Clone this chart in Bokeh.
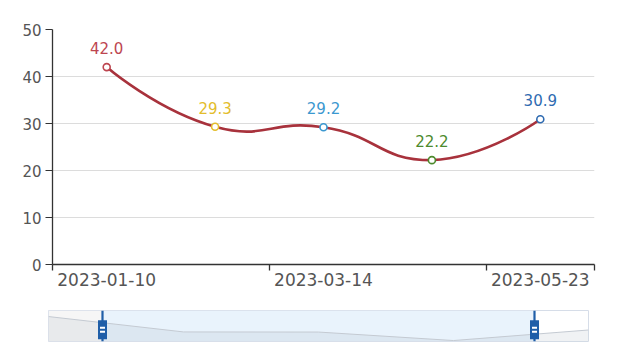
from bokeh.plotting import figure
from bokeh.models import Range1d, FixedTicker, ColumnDataSource
from bokeh.embed import file_html
from bokeh.resources import INLINE
from bokeh.core.properties import value
import numpy as np

# ---------------- data ----------------
dates = ["2023-01-10", "2023-02-11", "2023-03-14", "2023-04-18", "2023-05-23"]
values = [42.0, 29.3, 29.2, 22.2, 30.9]
point_colors = ["#bd4650", "#e3bd2c", "#3b98d0", "#4d8a2d", "#2f6bb1"]
y_ticks = [0, 10, 20, 30, 40, 50]
x_label_idx = [0, 2, 4]
zoom_start_pct, zoom_end_pct = 10, 90

FONT = "DejaVu Sans"
n = len(values)
idx = list(range(n))

# ---------------- main chart ----------------
FRAME_W, FRAME_H = 542, 235
p = figure(width=620, height=303,
           x_range=Range1d(-0.5, n - 0.5), y_range=Range1d(0, 50),
           output_backend="svg", toolbar_location=None,
           min_border_left=52, min_border_right=26,
           min_border_top=29, min_border_bottom=39)
p.outline_line_color = None
p.background_fill_color = "white"
p.border_fill_color = "white"
p.xgrid.visible = False
p.ygrid.grid_line_color = "#dcdcdc"
p.ygrid.grid_line_width = 1

p.yaxis.ticker = FixedTicker(ticks=y_ticks)
p.yaxis.axis_line_color = "#333333"
p.yaxis.axis_line_width = 1.3
p.yaxis.major_tick_line_color = "#333333"
p.yaxis.major_tick_in = 0
p.yaxis.major_tick_out = 7
p.yaxis.minor_tick_line_color = None
p.yaxis.major_label_text_font = FONT
p.yaxis.major_label_text_font_size = "15px"
p.yaxis.major_label_text_color = "#555555"
p.yaxis.major_label_standoff = 4

minor = [i - 0.5 for i in x_label_idx] + [n - 0.5]
p.xaxis.ticker = FixedTicker(ticks=x_label_idx, minor_ticks=minor)
p.xaxis.major_label_overrides = {i: dates[i] for i in x_label_idx}
p.xaxis.axis_line_color = "#333333"
p.xaxis.axis_line_width = 1.3
p.xaxis.major_tick_in = 0
p.xaxis.major_tick_out = 0
p.xaxis.minor_tick_in = 0
p.xaxis.minor_tick_out = 6
p.xaxis.minor_tick_line_color = "#333333"
p.xaxis.minor_tick_line_width = 1.3
p.xaxis.major_label_text_font = FONT
p.xaxis.major_label_text_font_size = "17px"
p.xaxis.major_label_text_color = "#555555"
p.xaxis.major_label_standoff = 2

# ECharts-style smooth bezier (computed in pixel space)
sx = FRAME_W / n
sy = FRAME_H / 50.0
pts = np.array([[i * sx, v * sy] for i, v in zip(idx, values)])
mn, mx = pts.min(axis=0), pts.max(axis=0)
smooth = 0.5
cps = []
for i in range(n):
    if i == 0 or i == n - 1:
        cps.append(pts[i].copy())
        continue
    prev, cur, nxt = pts[i - 1], pts[i], pts[i + 1]
    v = (nxt - prev) * smooth
    d0 = np.linalg.norm(cur - prev)
    d1 = np.linalg.norm(cur - nxt)
    s = d0 + d1
    d0, d1 = d0 / s, d1 / s
    c0 = np.clip(cur - v * d0, mn, mx)
    c1 = np.clip(cur + v * d1, mn, mx)
    cps += [c0, c1]
cps = np.array(cps) / np.array([sx, sy])

seg = ColumnDataSource(dict(
    x0=idx[:-1], y0=values[:-1], x1=idx[1:], y1=values[1:],
    cx0=cps[0:-1:2, 0], cy0=cps[0:-1:2, 1],
    cx1=cps[1::2, 0], cy1=cps[1::2, 1],
))
p.bezier(x0="x0", y0="y0", x1="x1", y1="y1", cx0="cx0", cy0="cy0",
         cx1="cx1", cy1="cy1", source=seg, line_color="#a8323c",
         line_width=2.6)

pt_src = ColumnDataSource(dict(x=idx, y=values, c=point_colors,
                               t=[f"{v:.1f}" for v in values]))
p.scatter(x="x", y="y", source=pt_src, size=7, marker="circle",
          fill_color="white", line_color="c", line_width=1.6)
p.text(x="x", y="y", text="t", source=pt_src, text_color="c",
       text_font=value(FONT), text_font_size="15px",
       text_align="center", text_baseline="alphabetic", y_offset=-19)

# ---------------- data zoom slider ----------------
s = figure(width=620, height=40, x_range=Range1d(0, n - 1),
           y_range=Range1d(21.4, 47), output_backend="svg",
           toolbar_location=None, min_border_left=48, min_border_right=32,
           min_border_top=7, min_border_bottom=2)
s.axis.visible = False
s.grid.visible = False
s.outline_line_color = "#d6dde8"
s.outline_line_width = 1
s.background_fill_color = "white"
s.border_fill_color = "white"

x_lo = (n - 1) * zoom_start_pct / 100
x_hi = (n - 1) * zoom_end_pct / 100
y_bot, y_top = s.y_range.start, s.y_range.end
s.quad(left=[0], right=[x_lo], bottom=[y_bot], top=[y_top],
       fill_color="#f6f6f6", line_color=None)
s.quad(left=[x_lo], right=[x_hi], bottom=[y_bot], top=[y_top],
       fill_color="#e9f3fc", line_color=None)
s.varea(x=idx, y1=[y_bot] * n, y2=values, fill_color="#8a98a8",
        fill_alpha=0.13)
s.line(x=idx, y=values, line_color="#c4cad2", line_width=1)

hy = y_bot + 0.38 * (y_top - y_bot)
hx = [x_lo, x_hi]
s.segment(x0=hx, y0=[y_bot] * 2, x1=hx, y1=[y_top] * 2,
          line_color="#1f5ea8", line_width=2.2)
s.rect(x=hx, y=[hy] * 2, width=9, height=19, width_units="screen",
       height_units="screen", fill_color="#1f5ea8", line_color=None)
s.rect(x=hx, y=[hy] * 2, width=5, height=6, width_units="screen",
       height_units="screen", fill_color="white", line_color=None)
s.rect(x=hx, y=[hy] * 2, width=5, height=2, width_units="screen",
       height_units="screen", fill_color="#1f5ea8", line_color=None)

open("out.html", "w").write(file_html([p, s], INLINE))
